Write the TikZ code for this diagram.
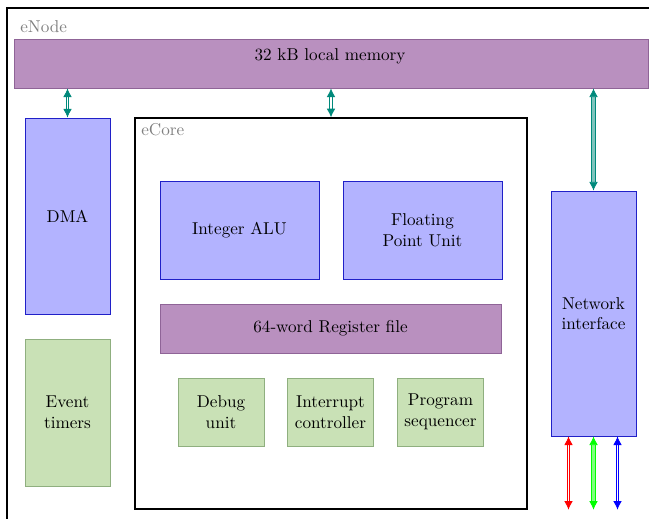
\documentclass[tikz,border=0pt]{standalone}
\usetikzlibrary{arrows.meta}

\definecolor{memfill}{HTML}{B990BF}
\definecolor{memdraw}{HTML}{8F6497}
\definecolor{unitfill}{HTML}{B3B3FF}
\definecolor{unitdraw}{HTML}{2020C8}
\definecolor{ctrlfill}{HTML}{C9E1B6}
\definecolor{ctrldraw}{HTML}{8FAF7F}
\definecolor{busteal}{HTML}{00897B}
\def\pxu{0.0205cm}

\tikzset{
  boxsize/.style 2 args={minimum width=#1*\pxu, minimum height=#2*\pxu},
  membox/.style={draw=memdraw, fill=memfill, line width=0.5pt, inner sep=0pt, align=center},
  unitbox/.style={draw=unitdraw, fill=unitfill, line width=0.5pt, inner sep=0pt, align=center},
  ctrlbox/.style={draw=ctrldraw, fill=ctrlfill, line width=0.5pt, inner sep=0pt, align=center},
  framebox/.style={draw=black, line width=0.8pt, inner sep=0pt},
  framelabel/.style={text=gray, anchor=west, inner sep=0pt},
  bus/.style={draw=busteal, line width=0.5pt, double=white, double distance=0.9pt,
    {Latex[length=5pt,width=5pt]}-{Latex[length=5pt,width=5pt]}},
  widebus/.style={bus, line width=0.4pt, double=busteal!50, double distance=2.2pt}
}

\begin{document}
\begin{tikzpicture}[x=\pxu, y=-\pxu]
        \useasboundingbox (0,0) rectangle (649,519);
        \clip (0,0) rectangle (649,519);

        % eNode frame, runs past the page
        \node[framebox, boxsize={663}{532}] (enode) at (338.5,274) {};
        \node[framelabel] (enodetitle) at (20,27) {eNode};

        % Shared memory
        \node[membox, boxsize={634}{49}] (mem) at (331,63.5) {};
        \node[inner sep=0pt] (memtitle) at (330,56) {32 kB local memory};

        % Left column
        \node[unitbox, boxsize={85}{196}] (dma) at (67.5,216) {DMA};
        \node[ctrlbox, boxsize={85}{147}] (timers) at (67.5,412.5) {Event\\timers};

        % eCore
        \node[framebox, boxsize={392}{391}] (ecore) at (331,313.5) {};
        \node[framelabel] (ecoretitle) at (141,130) {eCore};
        \node[unitbox, boxsize={159}{98}] (alu) at (239.5,230) {Integer ALU};
        \node[unitbox, boxsize={159}{98}] (fpu) at (422.5,230) {Floating\\Point Unit};
        \node[membox, boxsize={341}{49}] (regs) at (330.5,328.5) {64-word Register file};
        \node[ctrlbox, boxsize={86}{68}] (debug) at (221,412) {Debug\\unit};
        \node[ctrlbox, boxsize={86}{68}] (irq) at (330.5,412) {Interrupt\\controller};
        \node[ctrlbox, boxsize={86}{68}] (seq) at (440.5,412) {Program\\sequencer};

        % Network interface
        \node[unitbox, boxsize={85}{245}] (net) at (593.5,313.5) {Network\\interface};

        % Memory buses
        \draw[bus] (dma.north) -- (dma.north |- mem.south);
        \draw[bus] (ecore.north) -- (ecore.north |- mem.south);
        \draw[widebus] (net.north) -- (net.north |- mem.south);

        % Mesh links
        \coordinate (linkr) at ([xshift=-25*\pxu]net.south |- ecore.south);
        \coordinate (linkg) at (net.south |- ecore.south);
        \coordinate (linkb) at ([xshift=24*\pxu]net.south |- ecore.south);
        \draw[bus, draw=red] ([xshift=-25*\pxu]net.south) -- (linkr);
        \draw[widebus, draw=green, double=green!50] (net.south) -- (linkg);
        \draw[bus, draw=blue] ([xshift=24*\pxu]net.south) -- (linkb);
    \end{tikzpicture}
\end{document}
